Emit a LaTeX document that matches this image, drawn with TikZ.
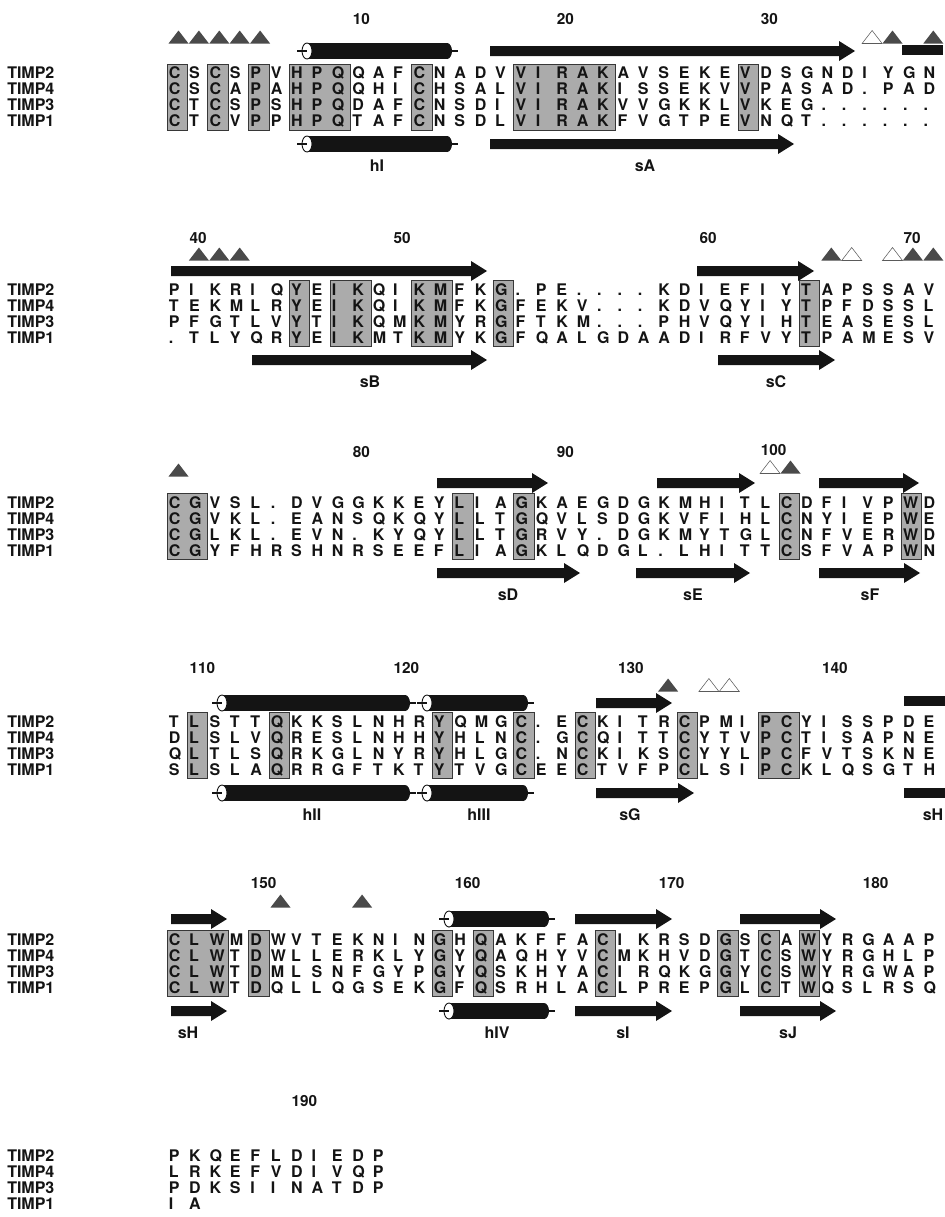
\documentclass[tikz,border=0pt]{standalone}
\usepackage{fontspec}
\setmainfont{TeX Gyre Heros}
\usetikzlibrary{calc}
\definecolor{ink}{HTML}{141414}
\definecolor{shade}{HTML}{ABABAB}
\definecolor{trifill}{HTML}{4A4A4A}
% x of the left edge of alignment column #1 (pixels)
\newcommand{\colx}[1]{(167+(#1-1)*20.4)}
\tikzset{
  every node/.style={text=ink},
  res/.style={anchor=base west, inner sep=0pt, font=\fontsize{12}{13}\selectfont\bfseries},
  seqname/.style={anchor=base west, inner sep=0pt, font=\fontsize{12}{13}\selectfont\bfseries},
  numtag/.style={anchor=base west, inner sep=0pt, font=\fontsize{11.5}{13}\selectfont\bfseries},
  sselabel/.style={anchor=base, inner sep=0pt, font=\fontsize{12}{13}\selectfont\bfseries},
  consbox/.style={fill=shade, draw=ink!85, line width=0.6pt},
  tipfull/.style={fill=trifill},
  tipopen/.style={fill=white, draw=ink!70, line width=0.4pt},
  tick/.style={draw=ink, line width=0.8pt},
}
% conserved box: y of first row, first column, last column
\newcommand{\consv}[3]{\path[consbox] ({\colx{#2}},{#1-9}) rectangle ({\colx{#3}+20.4},{#1+57});}
% four aligned rows: tag, y of first row, lists
\newcommand{\seqrows}[3]{%
  \foreach \sq [count=\rw] in {#3}{
    \foreach \res [count=\kc] in \sq
      {\node[res] (#1-\rw-\kc) at ({\colx{\kc}+1.5},{#2+(\rw-1)*16+5.8}) {\res};}
  }
  \foreach \nm [count=\rw] in {TIMP2,TIMP4,TIMP3,TIMP1}
    {\node[seqname] (#1-name-\rw) at (7,{#2+(\rw-1)*16+5.8}) {\nm};}
}
\newcommand{\posnum}[3]{\node[numtag] (num#1) at ({\colx{#2}+2},{#3+5.5}) {#1};}
\newcommand{\marker}[3]{\path[#3] ({\colx{#1}+1.5},{#2+6.5}) -- ({\colx{#1}+21.5},{#2+6.5}) -- ({\colx{#1}+11.5},{#2-6.5}) -- cycle;}
% helix: x start, x end, y
\newcommand{\helix}[3]{%
  \fill[ink] ({#1+10},{#3-8}) rectangle ({#2-11},{#3+8});
  \fill[ink] ({#2-11},#3) ellipse [x radius=3.75pt, y radius=6pt];
  \draw[tick] ({#2-8},#3) -- (#2,#3);
  \path[fill=white, draw=ink, line width=0.7pt] ({#1+10},#3) ellipse [x radius=3.75pt, y radius=6pt];
  \draw[tick] (#1,#3) -- ({#1+10},#3);}
% strand arrow and strand bar: x start, x end, y
\newcommand{\strand}[3]{\fill[ink] (#1,{#3-5}) -- ({#2-16},{#3-5}) -- ({#2-16},{#3-10}) -- (#2,#3) -- ({#2-16},{#3+10}) -- ({#2-16},{#3+5}) -- (#1,{#3+5}) -- cycle;}
\newcommand{\sbar}[3]{\fill[ink] (#1,{#3-5}) rectangle (#2,{#3+5});}
\newcommand{\sselab}[4]{\node[sselabel] (sse-#4) at (#2,{#3+5.5}) {#1};}

\begin{document}
\begin{tikzpicture}[x=0.75pt,y=-0.75pt]
  \useasboundingbox (0,0) rectangle (945,1217);

  % block 1
  \foreach \p/\q in {1/1,3/3,5/5,7/9,13/13,18/22,29/29} {\consv{73}{\p}{\q}}
  \helix{297}{458}{51} \helix{297}{458}{144}
  \strand{490}{855}{51} \strand{490}{794}{144}
  \sbar{902}{943}{50}
  \sselab{hI}{377}{166}{hI} \sselab{sA}{645}{166}{sA}
  \foreach \c in {1,...,5} {\marker{\c}{37}{tipfull}}
  \marker{35}{37}{tipopen} \marker{36}{37}{tipfull} \marker{38}{37}{tipfull}
  \posnum{10}{10}{19} \posnum{20}{20}{19} \posnum{30}{30}{19}
  \seqrows{b1}{73}{{C,S,C,S,P,V,H,P,Q,Q,A,F,C,N,A,D,V,V,I,R,A,K,A,V,S,E,K,E,V,D,S,G,N,D,I,Y,G,N},
    {C,S,C,A,P,A,H,P,Q,Q,H,I,C,H,S,A,L,V,I,R,A,K,I,S,S,E,K,V,V,P,A,S,A,D,.,P,A,D},
    {C,T,C,S,P,S,H,P,Q,D,A,F,C,N,S,D,I,V,I,R,A,K,V,V,G,K,K,L,V,K,E,G,.,.,.,.,.,.},
    {C,T,C,V,P,P,H,P,Q,T,A,F,C,N,S,D,L,V,I,R,A,K,F,V,G,T,P,E,V,N,Q,T,.,.,.,.,.,.}}

  % block 2
  \foreach \p/\q in {7/7,9/10,13/14,17/17,32/32} {\consv{289.5}{\p}{\q}}
  \strand{171}{487}{271} \strand{697}{814}{271}
  \strand{252}{487}{360} \strand{718}{835}{360}
  \sselab{sB}{370}{382}{sB} \sselab{sC}{776}{382}{sC}
  \foreach \c in {2,3,4,33,37,38} {\marker{\c}{254}{tipfull}}
  \marker{34}{254}{tipopen} \marker{36}{254}{tipopen}
  \posnum{40}{2}{238} \posnum{50}{12}{238} \posnum{60}{27}{238} \posnum{70}{37}{238}
  \seqrows{b2}{289.5}{{P,I,K,R,I,Q,Y,E,I,K,Q,I,K,M,F,K,G,.,P,E,.,.,.,.,K,D,I,E,F,I,Y,T,A,P,S,S,A,V},
    {T,E,K,M,L,R,Y,E,I,K,Q,I,K,M,F,K,G,F,E,K,V,.,.,.,K,D,V,Q,Y,I,Y,T,P,F,D,S,S,L},
    {P,F,G,T,L,V,Y,T,I,K,Q,M,K,M,Y,R,G,F,T,K,M,.,.,.,P,H,V,Q,Y,I,H,T,E,A,S,E,S,L},
    {.,T,L,Y,Q,R,Y,E,I,K,M,T,K,M,Y,K,G,F,Q,A,L,G,D,A,A,D,I,R,F,V,Y,T,P,A,M,E,S,V}}

  % block 3
  \foreach \p/\q in {1/2,15/15,18/18,31/31,37/37} {\consv{502.4}{\p}{\q}}
  \strand{437}{548}{483} \strand{657}{755}{483} \strand{819}{919}{483}
  \strand{437}{580}{573} \strand{636}{750}{573} \strand{819}{920}{573}
  \sselab{sD}{508}{595}{sD} \sselab{sE}{693}{595}{sE} \sselab{sF}{870}{595}{sF}
  \marker{1}{470}{tipfull} \marker{30}{467}{tipopen} \marker{31}{467}{tipfull}
  \posnum{80}{10}{452} \posnum{90}{20}{452} \posnum{100}{30}{450}
  \seqrows{b3}{502.4}{{C,G,V,S,L,.,D,V,G,G,K,K,E,Y,L,I,A,G,K,A,E,G,D,G,K,M,H,I,T,L,C,D,F,I,V,P,W,D},
    {C,G,V,K,L,.,E,A,N,S,Q,K,Q,Y,L,L,T,G,Q,V,L,S,D,G,K,V,F,I,H,L,C,N,Y,I,E,P,W,E},
    {C,G,L,K,L,.,E,V,N,.,K,Y,Q,Y,L,L,T,G,R,V,Y,.,D,G,K,M,Y,T,G,L,C,N,F,V,E,R,W,D},
    {C,G,Y,F,H,R,S,H,N,R,S,E,E,F,L,I,A,G,K,L,Q,D,G,L,.,L,H,I,T,T,C,S,F,V,A,P,W,N}}

  % block 4
  \foreach \p/\q in {2/2,6/6,14/14,18/18,21/21,26/26,30/31} {\consv{721.4}{\p}{\q}}
  \helix{212}{416}{703} \helix{417}{534}{703}
  \helix{212}{416}{793} \helix{417}{534}{793}
  \strand{596}{672}{703} \strand{596}{694}{793}
  \sbar{904}{945}{701} \sbar{904}{945}{793}
  \sselab{hII}{312}{815}{hII} \sselab{hIII}{479}{815}{hIII}
  \sselab{sG}{630}{815}{sG} \sselab{sH}{933}{815}{sH-a}
  \marker{25}{685}{tipfull} \marker{27}{685}{tipopen} \marker{28}{685}{tipopen}
  \posnum{110}{2}{668} \posnum{120}{12}{668} \posnum{130}{23}{668} \posnum{140}{33}{668}
  \seqrows{b4}{721.4}{{T,L,S,T,T,Q,K,K,S,L,N,H,R,Y,Q,M,G,C,.,E,C,K,I,T,R,C,P,M,I,P,C,Y,I,S,S,P,D,E},
    {D,L,S,L,V,Q,R,E,S,L,N,H,H,Y,H,L,N,C,.,G,C,Q,I,T,T,C,Y,T,V,P,C,T,I,S,A,P,N,E},
    {Q,L,T,L,S,Q,R,K,G,L,N,Y,R,Y,H,L,G,C,.,N,C,K,I,K,S,C,Y,Y,L,P,C,F,V,T,S,K,N,E},
    {S,L,S,L,A,Q,R,R,G,F,T,K,T,Y,T,V,G,C,E,E,C,T,V,F,P,C,L,S,I,P,C,K,L,Q,S,G,T,H}}

  % block 5
  \foreach \p/\q in {1/3,5/5,14/14,16/16,22/22,28/28,30/30,32/32} {\consv{939.8}{\p}{\q}}
  \strand{171}{227}{919} \strand{171}{227}{1011}
  \helix{439}{555}{919} \helix{439}{555}{1011}
  \strand{575}{672}{919} \strand{575}{672}{1011}
  \strand{740}{836}{919} \strand{740}{836}{1011}
  \sselab{sH}{188}{1033}{sH-b} \sselab{hIV}{497}{1033}{hIV}
  \sselab{sI}{623}{1033}{sI} \sselab{sJ}{788}{1033}{sJ}
  \marker{6}{901}{tipfull} \marker{10}{901}{tipfull}
  \posnum{150}{5}{883} \posnum{160}{15}{883} \posnum{170}{25}{883} \posnum{180}{35}{883}
  \seqrows{b5}{939.8}{{C,L,W,M,D,W,V,T,E,K,N,I,N,G,H,Q,A,K,F,F,A,C,I,K,R,S,D,G,S,C,A,W,Y,R,G,A,A,P},
    {C,L,W,T,D,W,L,L,E,R,K,L,Y,G,Y,Q,A,Q,H,Y,V,C,M,K,H,V,D,G,T,C,S,W,Y,R,G,H,L,P},
    {C,L,W,T,D,M,L,S,N,F,G,Y,P,G,Y,Q,S,K,H,Y,A,C,I,R,Q,K,G,G,Y,C,S,W,Y,R,G,W,A,P},
    {C,L,W,T,D,Q,L,L,Q,G,S,E,K,G,F,Q,S,R,H,L,A,C,L,P,R,E,P,G,L,C,T,W,Q,S,L,R,S,Q}}

  % block 6
  \posnum{190}{7}{1101}
  \seqrows{b6}{1155.3}{{P,K,Q,E,F,L,D,I,E,D,P},
    {L,R,K,E,F,V,D,I,V,Q,P},
    {P,D,K,S,I,I,N,A,T,D,P},
    {I,A}}
\end{tikzpicture}
\end{document}
